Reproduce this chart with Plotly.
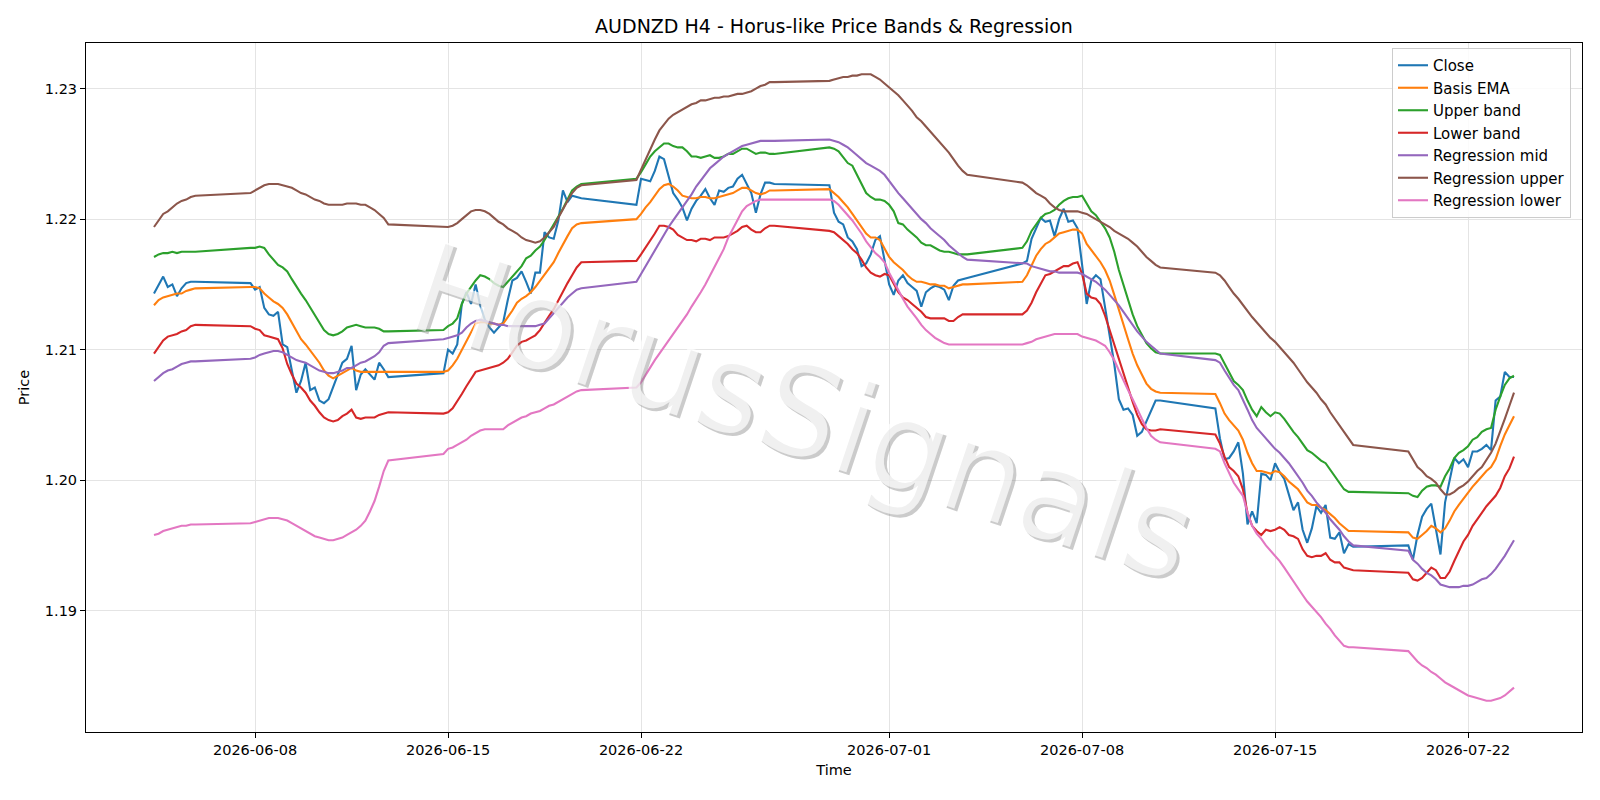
import pandas as pd
import plotly.graph_objects as go

# ---- trading sessions (H4 bars, weekend gaps) ----
sessions = [
    ("2026-06-04 08:00", "2026-06-05 20:00"),
    ("2026-06-07 20:00", "2026-06-12 20:00"),
    ("2026-06-14 20:00", "2026-06-19 20:00"),
    ("2026-06-21 20:00", "2026-06-26 20:00"),
    ("2026-06-28 20:00", "2026-07-03 20:00"),
    ("2026-07-05 20:00", "2026-07-10 20:00"),
    ("2026-07-12 20:00", "2026-07-17 20:00"),
    ("2026-07-19 20:00", "2026-07-23 16:00"),
]

close = [
    1.2143, 1.2149, 1.2156, 1.2148, 1.2150, 1.2141, 1.2147, 1.2151, 1.2152, 1.2152,
    1.2151, 1.2146, 1.2148, 1.2132, 1.2127, 1.2126, 1.2129, 1.2104, 1.2102, 1.2084, 1.2067, 1.2076, 1.2090, 1.2069, 1.2071, 1.2061, 1.2059, 1.2062, 1.2071, 1.2080, 1.2090, 1.2093, 1.2103, 1.2069, 1.2081, 1.2085, 1.2081, 1.2077, 1.2090, 1.2085, 1.2079,
    1.2082, 1.2100, 1.2097, 1.2104, 1.2135, 1.2144, 1.2135, 1.2150, 1.2134, 1.2123, 1.2117, 1.2113, 1.2117, 1.2121, 1.2138, 1.2153, 1.2155, 1.2160, 1.2152, 1.2143, 1.2159, 1.2159, 1.2190, 1.2186, 1.2185, 1.2199, 1.2222, 1.2213, 1.2218, 1.2217, 1.2216,
    1.2211, 1.2231, 1.2230, 1.2229, 1.2237, 1.2248, 1.2246, 1.2233, 1.2220, 1.2215, 1.2209, 1.2199, 1.2208, 1.2214, 1.2218, 1.2223, 1.2216, 1.2211, 1.2222, 1.2221, 1.2224, 1.2225, 1.2231, 1.2234, 1.2227, 1.2220, 1.2205, 1.2219, 1.2228, 1.2228, 1.2227,
    1.2226, 1.2205, 1.2198, 1.2196, 1.2186, 1.2183, 1.2177, 1.2164, 1.2166, 1.2173, 1.2184, 1.2187, 1.2168, 1.2150, 1.2142, 1.2153, 1.2157, 1.2151, 1.2148, 1.2145, 1.2133, 1.2144, 1.2147, 1.2149, 1.2148, 1.2146, 1.2138, 1.2149, 1.2153, 1.2154, 1.2155,
    1.2166, 1.2168, 1.2185, 1.2193, 1.2201, 1.2198, 1.2199, 1.2187, 1.2200, 1.2208, 1.2198, 1.2199, 1.2193, 1.2165, 1.2135, 1.2153, 1.2157, 1.2154, 1.2132, 1.2113, 1.2089, 1.2062, 1.2054, 1.2055, 1.2050, 1.2034, 1.2037, 1.2045, 1.2053, 1.2061, 1.2061,
    1.2055, 1.2032, 1.2016, 1.2017, 1.2022, 1.2029, 1.2005, 1.1966, 1.1976, 1.1967, 1.2005, 1.2004, 1.2000, 1.2013, 1.2006, 1.2001, 1.1988, 1.1977, 1.1983, 1.1962, 1.1952, 1.1963, 1.1980, 1.1975, 1.1981, 1.1956, 1.1955, 1.1960, 1.1944, 1.1951, 1.1949,
    1.1950, 1.1939, 1.1958, 1.1972, 1.1978, 1.1982, 1.1962, 1.1943, 1.1983, 1.2001, 1.2017, 1.2013, 1.2016, 1.2010, 1.2022, 1.2022, 1.2024, 1.2027, 1.2023, 1.2061, 1.2064, 1.2083, 1.2079, 1.2079,
]

basis_ema = [
    1.2134, 1.2138, 1.2140, 1.2141, 1.2142, 1.2143, 1.2143, 1.2145, 1.2146, 1.2147,
    1.2148, 1.2148, 1.2147, 1.2143, 1.2140, 1.2137, 1.2135, 1.2132, 1.2127, 1.2121, 1.2115, 1.2108, 1.2104, 1.2099, 1.2094, 1.2090, 1.2084, 1.2080, 1.2078, 1.2080, 1.2082, 1.2084, 1.2086, 1.2084, 1.2083, 1.2083, 1.2083, 1.2083, 1.2083, 1.2083, 1.2083,
    1.2083, 1.2084, 1.2088, 1.2093, 1.2100, 1.2107, 1.2114, 1.2120, 1.2121, 1.2121, 1.2120, 1.2120, 1.2119, 1.2120, 1.2125, 1.2130, 1.2136, 1.2139, 1.2141, 1.2144, 1.2148, 1.2153, 1.2158, 1.2162, 1.2167, 1.2174, 1.2181, 1.2187, 1.2193, 1.2196, 1.2197,
    1.2200, 1.2204, 1.2209, 1.2213, 1.2218, 1.2223, 1.2226, 1.2227, 1.2225, 1.2222, 1.2218, 1.2217, 1.2216, 1.2216, 1.2217, 1.2217, 1.2216, 1.2216, 1.2217, 1.2218, 1.2219, 1.2220, 1.2222, 1.2224, 1.2224, 1.2222, 1.2220, 1.2219, 1.2220, 1.2222, 1.2222,
    1.2223, 1.2220, 1.2217, 1.2213, 1.2209, 1.2204, 1.2199, 1.2194, 1.2189, 1.2186, 1.2186, 1.2184, 1.2178, 1.2171, 1.2167, 1.2164, 1.2161, 1.2157, 1.2154, 1.2152, 1.2152, 1.2151, 1.2150, 1.2150, 1.2149, 1.2149, 1.2147, 1.2148, 1.2149, 1.2150, 1.2150,
    1.2152, 1.2157, 1.2164, 1.2172, 1.2177, 1.2181, 1.2183, 1.2186, 1.2189, 1.2190, 1.2191, 1.2192, 1.2192, 1.2189, 1.2181, 1.2176, 1.2172, 1.2167, 1.2161, 1.2153, 1.2142, 1.2130, 1.2119, 1.2108, 1.2097, 1.2088, 1.2081, 1.2074, 1.2070, 1.2068, 1.2067,
    1.2066, 1.2059, 1.2051, 1.2046, 1.2042, 1.2038, 1.2031, 1.2021, 1.2013, 1.2007, 1.2007, 1.2006, 1.2005, 1.2007, 1.2006, 1.2003, 1.1999, 1.1996, 1.1993, 1.1988, 1.1983, 1.1981, 1.1981, 1.1979, 1.1977, 1.1974, 1.1971, 1.1967, 1.1964, 1.1961, 1.1961,
    1.1960, 1.1956, 1.1955, 1.1958, 1.1961, 1.1965, 1.1963, 1.1960, 1.1963, 1.1969, 1.1976, 1.1981, 1.1986, 1.1991, 1.1995, 1.1999, 1.2003, 1.2007, 1.2010, 1.2016, 1.2026, 1.2035, 1.2042, 1.2049,
]

upper_band = [
    1.2171, 1.2173, 1.2174, 1.2174, 1.2175, 1.2174, 1.2175, 1.2175, 1.2175, 1.2175,
    1.2178, 1.2178, 1.2179, 1.2178, 1.2173, 1.2169, 1.2165, 1.2163, 1.2160, 1.2154, 1.2148, 1.2143, 1.2138, 1.2132, 1.2126, 1.2120, 1.2115, 1.2112, 1.2111, 1.2112, 1.2114, 1.2117, 1.2118, 1.2119, 1.2118, 1.2117, 1.2117, 1.2117, 1.2116, 1.2114, 1.2114,
    1.2115, 1.2118, 1.2120, 1.2124, 1.2135, 1.2143, 1.2148, 1.2153, 1.2157, 1.2156, 1.2154, 1.2151, 1.2149, 1.2148, 1.2152, 1.2156, 1.2160, 1.2164, 1.2170, 1.2172, 1.2176, 1.2179, 1.2184, 1.2190, 1.2196, 1.2201, 1.2208, 1.2215, 1.2222, 1.2225, 1.2227,
    1.2231, 1.2236, 1.2242, 1.2248, 1.2252, 1.2255, 1.2258, 1.2258, 1.2256, 1.2255, 1.2255, 1.2252, 1.2248, 1.2248, 1.2247, 1.2248, 1.2249, 1.2247, 1.2247, 1.2248, 1.2250, 1.2250, 1.2252, 1.2254, 1.2254, 1.2252, 1.2250, 1.2251, 1.2251, 1.2250, 1.2250,
    1.2255, 1.2254, 1.2252, 1.2247, 1.2243, 1.2241, 1.2234, 1.2227, 1.2220, 1.2217, 1.2215, 1.2215, 1.2214, 1.2211, 1.2206, 1.2197, 1.2196, 1.2192, 1.2189, 1.2186, 1.2182, 1.2180, 1.2180, 1.2178, 1.2176, 1.2175, 1.2175, 1.2174, 1.2173, 1.2173, 1.2173,
    1.2178, 1.2183, 1.2191, 1.2196, 1.2201, 1.2204, 1.2205, 1.2207, 1.2211, 1.2214, 1.2216, 1.2217, 1.2217, 1.2218, 1.2212, 1.2206, 1.2203, 1.2198, 1.2193, 1.2186, 1.2175, 1.2161, 1.2149, 1.2138, 1.2127, 1.2118, 1.2111, 1.2105, 1.2101, 1.2098, 1.2097,
    1.2097, 1.2096, 1.2089, 1.2082, 1.2076, 1.2073, 1.2069, 1.2061, 1.2054, 1.2049, 1.2056, 1.2052, 1.2049, 1.2052, 1.2051, 1.2047, 1.2042, 1.2037, 1.2033, 1.2028, 1.2023, 1.2021, 1.2018, 1.2015, 1.2013, 1.2008, 1.2003, 1.1998, 1.1993, 1.1991, 1.1991,
    1.1990, 1.1988, 1.1987, 1.1992, 1.1995, 1.1996, 1.1996, 1.1995, 1.2003, 1.2009, 1.2017, 1.2021, 1.2023, 1.2026, 1.2031, 1.2033, 1.2037, 1.2039, 1.2040, 1.2054, 1.2064, 1.2073, 1.2078, 1.2080,
]

lower_band = [
    1.2097, 1.2102, 1.2107, 1.2110, 1.2111, 1.2112, 1.2114, 1.2115, 1.2118, 1.2119,
    1.2118, 1.2116, 1.2115, 1.2111, 1.2110, 1.2109, 1.2108, 1.2101, 1.2089, 1.2081, 1.2074, 1.2071, 1.2067, 1.2061, 1.2057, 1.2052, 1.2048, 1.2046, 1.2045, 1.2046, 1.2049, 1.2051, 1.2054, 1.2048, 1.2047, 1.2048, 1.2048, 1.2048, 1.2050, 1.2051, 1.2052,
    1.2051, 1.2052, 1.2055, 1.2060, 1.2066, 1.2072, 1.2078, 1.2083, 1.2084, 1.2085, 1.2086, 1.2087, 1.2088, 1.2090, 1.2093, 1.2098, 1.2103, 1.2106, 1.2107, 1.2109, 1.2111, 1.2115, 1.2120, 1.2126, 1.2131, 1.2138, 1.2144, 1.2151, 1.2157, 1.2163, 1.2167,
    1.2168, 1.2173, 1.2178, 1.2183, 1.2189, 1.2195, 1.2195, 1.2194, 1.2192, 1.2188, 1.2186, 1.2184, 1.2184, 1.2183, 1.2185, 1.2185, 1.2184, 1.2186, 1.2186, 1.2186, 1.2187, 1.2189, 1.2191, 1.2194, 1.2195, 1.2192, 1.2190, 1.2190, 1.2193, 1.2195, 1.2195,
    1.2191, 1.2190, 1.2187, 1.2184, 1.2181, 1.2177, 1.2174, 1.2169, 1.2163, 1.2159, 1.2157, 1.2156, 1.2158, 1.2157, 1.2151, 1.2144, 1.2140, 1.2138, 1.2135, 1.2132, 1.2129, 1.2125, 1.2124, 1.2124, 1.2124, 1.2124, 1.2122, 1.2122, 1.2125, 1.2127, 1.2127,
    1.2127, 1.2130, 1.2136, 1.2144, 1.2151, 1.2157, 1.2158, 1.2160, 1.2162, 1.2164, 1.2164, 1.2166, 1.2167, 1.2158, 1.2143, 1.2140, 1.2139, 1.2135, 1.2126, 1.2115, 1.2104, 1.2092, 1.2081, 1.2071, 1.2060, 1.2050, 1.2043, 1.2039, 1.2038, 1.2038, 1.2039,
    1.2035, 1.2028, 1.2018, 1.2010, 1.2007, 1.2003, 1.1993, 1.1975, 1.1965, 1.1961, 1.1958, 1.1962, 1.1961, 1.1962, 1.1964, 1.1962, 1.1958, 1.1957, 1.1955, 1.1947, 1.1942, 1.1941, 1.1942, 1.1942, 1.1944, 1.1939, 1.1937, 1.1937, 1.1933, 1.1932, 1.1931,
    1.1929, 1.1924, 1.1923, 1.1925, 1.1929, 1.1933, 1.1931, 1.1925, 1.1925, 1.1930, 1.1938, 1.1946, 1.1953, 1.1958, 1.1965, 1.1970, 1.1975, 1.1980, 1.1984, 1.1988, 1.1994, 1.2003, 1.2009, 1.2018,
]

regression_mid = [
    1.2076, 1.2079, 1.2082, 1.2084, 1.2085, 1.2087, 1.2089, 1.2090, 1.2091, 1.2091,
    1.2093, 1.2094, 1.2096, 1.2097, 1.2098, 1.2099, 1.2099, 1.2098, 1.2096, 1.2094, 1.2092, 1.2091, 1.2090, 1.2088, 1.2086, 1.2084, 1.2083, 1.2082, 1.2082, 1.2083, 1.2084, 1.2086, 1.2086, 1.2088, 1.2090, 1.2091, 1.2093, 1.2095, 1.2098, 1.2103, 1.2105,
    1.2108, 1.2109, 1.2110, 1.2111, 1.2113, 1.2117, 1.2120, 1.2122, 1.2123, 1.2122, 1.2121, 1.2120, 1.2119, 1.2119, 1.2118, 1.2118, 1.2118, 1.2118, 1.2118, 1.2118, 1.2118, 1.2119, 1.2120, 1.2124, 1.2128, 1.2132, 1.2136, 1.2140, 1.2143, 1.2146, 1.2147,
    1.2152, 1.2158, 1.2164, 1.2171, 1.2177, 1.2183, 1.2189, 1.2194, 1.2199, 1.2204, 1.2209, 1.2214, 1.2219, 1.2225, 1.2230, 1.2235, 1.2239, 1.2242, 1.2245, 1.2248, 1.2250, 1.2252, 1.2254, 1.2256, 1.2257, 1.2258, 1.2259, 1.2260, 1.2260, 1.2260, 1.2260,
    1.2261, 1.2260, 1.2259, 1.2257, 1.2255, 1.2252, 1.2249, 1.2246, 1.2243, 1.2241, 1.2239, 1.2237, 1.2234, 1.2229, 1.2224, 1.2220, 1.2216, 1.2212, 1.2208, 1.2204, 1.2200, 1.2197, 1.2193, 1.2190, 1.2187, 1.2184, 1.2180, 1.2177, 1.2174, 1.2171, 1.2169,
    1.2166, 1.2166, 1.2164, 1.2163, 1.2162, 1.2161, 1.2160, 1.2160, 1.2159, 1.2159, 1.2159, 1.2159, 1.2159, 1.2158, 1.2156, 1.2154, 1.2152, 1.2149, 1.2146, 1.2142, 1.2138, 1.2134, 1.2129, 1.2124, 1.2119, 1.2114, 1.2110, 1.2106, 1.2103, 1.2100, 1.2097,
    1.2092, 1.2090, 1.2084, 1.2078, 1.2073, 1.2069, 1.2062, 1.2054, 1.2046, 1.2040, 1.2036, 1.2032, 1.2028, 1.2024, 1.2021, 1.2017, 1.2013, 1.2008, 1.2003, 1.1998, 1.1992, 1.1988, 1.1983, 1.1979, 1.1975, 1.1970, 1.1966, 1.1962, 1.1957, 1.1953, 1.1950,
    1.1946, 1.1939, 1.1936, 1.1932, 1.1929, 1.1927, 1.1924, 1.1920, 1.1919, 1.1918, 1.1918, 1.1918, 1.1919, 1.1919, 1.1920, 1.1922, 1.1924, 1.1925, 1.1928, 1.1932, 1.1937, 1.1942, 1.1948, 1.1954,
]

regression_upper = [
    1.2194, 1.2199, 1.2204, 1.2206, 1.2209, 1.2212, 1.2214, 1.2215, 1.2217, 1.2218,
    1.2220, 1.2222, 1.2224, 1.2226, 1.2227, 1.2227, 1.2227, 1.2226, 1.2225, 1.2224, 1.2222, 1.2220, 1.2219, 1.2217, 1.2215, 1.2214, 1.2212, 1.2211, 1.2211, 1.2211, 1.2211, 1.2212, 1.2212, 1.2212, 1.2211, 1.2211, 1.2209, 1.2207, 1.2204, 1.2201, 1.2196,
    1.2194, 1.2194, 1.2195, 1.2197, 1.2200, 1.2203, 1.2206, 1.2207, 1.2207, 1.2206, 1.2204, 1.2201, 1.2198, 1.2196, 1.2193, 1.2191, 1.2189, 1.2186, 1.2184, 1.2183, 1.2182, 1.2183, 1.2186, 1.2190, 1.2194, 1.2201, 1.2208, 1.2214, 1.2220, 1.2224, 1.2226,
    1.2230, 1.2238, 1.2246, 1.2254, 1.2261, 1.2268, 1.2273, 1.2277, 1.2280, 1.2282, 1.2284, 1.2286, 1.2288, 1.2289, 1.2291, 1.2291, 1.2292, 1.2293, 1.2293, 1.2294, 1.2294, 1.2295, 1.2296, 1.2296, 1.2297, 1.2298, 1.2300, 1.2302, 1.2303, 1.2305, 1.2305,
    1.2306, 1.2307, 1.2308, 1.2309, 1.2309, 1.2310, 1.2310, 1.2311, 1.2311, 1.2311, 1.2309, 1.2307, 1.2304, 1.2301, 1.2298, 1.2295, 1.2291, 1.2287, 1.2283, 1.2278, 1.2275, 1.2271, 1.2267, 1.2263, 1.2259, 1.2255, 1.2251, 1.2246, 1.2241, 1.2237, 1.2234,
    1.2228, 1.2226, 1.2223, 1.2220, 1.2218, 1.2216, 1.2212, 1.2209, 1.2207, 1.2206, 1.2206, 1.2206, 1.2206, 1.2205, 1.2204, 1.2202, 1.2200, 1.2198, 1.2196, 1.2194, 1.2191, 1.2189, 1.2187, 1.2185, 1.2182, 1.2179, 1.2175, 1.2171, 1.2168, 1.2165, 1.2163,
    1.2159, 1.2157, 1.2153, 1.2148, 1.2143, 1.2139, 1.2134, 1.2130, 1.2125, 1.2121, 1.2117, 1.2113, 1.2109, 1.2106, 1.2102, 1.2098, 1.2094, 1.2090, 1.2085, 1.2080, 1.2075, 1.2071, 1.2067, 1.2062, 1.2058, 1.2052, 1.2047, 1.2042, 1.2037, 1.2032, 1.2027,
    1.2022, 1.2016, 1.2010, 1.2007, 1.2003, 1.2001, 1.1998, 1.1993, 1.1989, 1.1989, 1.1991, 1.1994, 1.1996, 1.1999, 1.2003, 1.2007, 1.2010, 1.2015, 1.2021, 1.2028, 1.2037, 1.2047, 1.2057, 1.2067,
]

regression_lower = [
    1.1958, 1.1959, 1.1961, 1.1962, 1.1963, 1.1964, 1.1965, 1.1965, 1.1966, 1.1966,
    1.1967, 1.1968, 1.1969, 1.1970, 1.1971, 1.1971, 1.1971, 1.1970, 1.1969, 1.1967, 1.1965, 1.1963, 1.1961, 1.1959, 1.1957, 1.1956, 1.1955, 1.1954, 1.1954, 1.1955, 1.1956, 1.1958, 1.1960, 1.1962, 1.1965, 1.1969, 1.1976, 1.1984, 1.1995, 1.2007, 1.2015,
    1.2020, 1.2024, 1.2025, 1.2027, 1.2029, 1.2031, 1.2034, 1.2036, 1.2038, 1.2039, 1.2039, 1.2039, 1.2039, 1.2039, 1.2042, 1.2044, 1.2046, 1.2048, 1.2049, 1.2051, 1.2052, 1.2053, 1.2055, 1.2057, 1.2058, 1.2060, 1.2062, 1.2064, 1.2066, 1.2068, 1.2069,
    1.2071, 1.2075, 1.2081, 1.2087, 1.2092, 1.2097, 1.2102, 1.2107, 1.2112, 1.2117, 1.2122, 1.2127, 1.2133, 1.2138, 1.2144, 1.2150, 1.2157, 1.2164, 1.2170, 1.2177, 1.2186, 1.2193, 1.2200, 1.2206, 1.2210, 1.2212, 1.2214, 1.2215, 1.2215, 1.2215, 1.2215,
    1.2215, 1.2214, 1.2211, 1.2207, 1.2203, 1.2199, 1.2194, 1.2189, 1.2183, 1.2178, 1.2174, 1.2171, 1.2167, 1.2159, 1.2152, 1.2145, 1.2139, 1.2133, 1.2128, 1.2124, 1.2119, 1.2115, 1.2112, 1.2109, 1.2107, 1.2105, 1.2104, 1.2104, 1.2104, 1.2104, 1.2104,
    1.2104, 1.2105, 1.2106, 1.2108, 1.2109, 1.2110, 1.2111, 1.2112, 1.2112, 1.2112, 1.2112, 1.2112, 1.2112, 1.2110, 1.2109, 1.2108, 1.2107, 1.2105, 1.2103, 1.2098, 1.2092, 1.2084, 1.2076, 1.2069, 1.2062, 1.2054, 1.2047, 1.2040, 1.2034, 1.2031, 1.2029,
    1.2024, 1.2022, 1.2013, 1.2005, 1.1998, 1.1993, 1.1988, 1.1975, 1.1965, 1.1959, 1.1955, 1.1950, 1.1946, 1.1942, 1.1938, 1.1933, 1.1928, 1.1923, 1.1918, 1.1912, 1.1907, 1.1903, 1.1899, 1.1895, 1.1890, 1.1886, 1.1881, 1.1877, 1.1873, 1.1872, 1.1872,
    1.1869, 1.1865, 1.1861, 1.1858, 1.1856, 1.1853, 1.1851, 1.1848, 1.1845, 1.1843, 1.1841, 1.1839, 1.1837, 1.1835, 1.1834, 1.1833, 1.1832, 1.1831, 1.1831, 1.1832, 1.1833, 1.1835, 1.1838, 1.1841,
]

date_ticks = ["2026-06-08", "2026-06-15", "2026-06-22", "2026-07-01",
              "2026-07-08", "2026-07-15", "2026-07-22"]
price_ticks = [1.19, 1.20, 1.21, 1.22, 1.23]

series = [
    ("Close", close, "#1f77b4"),
    ("Basis EMA", basis_ema, "#ff7f0e"),
    ("Upper band", upper_band, "#2ca02c"),
    ("Lower band", lower_band, "#d62728"),
    ("Regression mid", regression_mid, "#9467bd"),
    ("Regression upper", regression_upper, "#8c564b"),
    ("Regression lower", regression_lower, "#e377c2"),
]

times = pd.DatetimeIndex(
    [t for s, e in sessions for t in pd.date_range(s, e, freq="4h")]
)
for name, vals, _ in series:
    assert len(vals) == len(times), (name, len(vals), len(times))

fig = go.Figure()
for name, vals, color in series:
    fig.add_trace(go.Scatter(
        x=times, y=vals, mode="lines", name=name,
        line=dict(color=color, width=2.1),
    ))

# matplotlib-like 5% data margins
span = times[-1] - times[0]
x_range = [times[0] - span * 0.05, times[-1] + span * 0.05]
all_vals = [v for _, vals, _ in series for v in vals]
vmin, vmax = min(all_vals), max(all_vals)
pad = (vmax - vmin) * 0.05
y_range = [vmin - pad, vmax + pad]

FONT = "DejaVu Sans"
L, R, T, B = 86, 18, 43, 68
W, H = 1600, 800
pw, ph = W - L - R, H - T - B

axis_common = dict(
    showgrid=True, gridcolor="#e4e4e4", gridwidth=1,
    showline=True, linecolor="black", linewidth=1, mirror=True,
    ticks="outside", ticklen=5, tickwidth=1, tickcolor="black",
    zeroline=False, automargin=False,
    tickfont=dict(family=FONT, size=14.5, color="black"),
)

fig.update_layout(
    width=W, height=H,
    margin=dict(l=L, r=R, t=T, b=B),
    paper_bgcolor="white", plot_bgcolor="white",
    font=dict(family=FONT, size=14.5, color="black"),
    title=dict(
        text="AUDNZD H4 - Horus-like Price Bands & Regression",
        x=(L + pw / 2) / W, xanchor="center",
        y=1 - 26 / H, yanchor="middle",
        font=dict(family=FONT, size=19, color="black"),
    ),
    xaxis=dict(
        type="date", range=x_range,
        tickvals=date_ticks, tickformat="%Y-%m-%d",
        title=dict(text="Time", standoff=7, font=dict(family=FONT, size=14.5)),
        **axis_common,
    ),
    yaxis=dict(
        range=y_range, tickvals=price_ticks, tickformat=".2f",
        title=dict(text="Price", standoff=11, font=dict(family=FONT, size=14.5)),
        **axis_common,
    ),
    legend=dict(
        x=(1571 - L) / pw, y=(H - B - 48) / ph,
        xanchor="right", yanchor="top",
        bgcolor="rgba(255,255,255,0.85)", bordercolor="#cccccc", borderwidth=1,
        font=dict(family=FONT, size=15, color="black"),
        itemwidth=30,
    ),
    showlegend=True,
)

# watermark
wm_x = (802 - L) / pw
wm_y = (H - B - 411) / ph
fig.add_annotation(
    text="HorusSignals", xref="paper", yref="paper", x=wm_x, y=wm_y,
    xanchor="center", yanchor="middle", showarrow=False, textangle=18.5,
    xshift=3, yshift=-3,
    font=dict(family=FONT, size=125, color="rgba(140,140,140,0.45)"),
)
fig.add_annotation(
    text="HorusSignals", xref="paper", yref="paper", x=wm_x, y=wm_y,
    xanchor="center", yanchor="middle", showarrow=False, textangle=18.5,
    font=dict(family=FONT, size=125, color="rgba(255,255,255,0.7)"),
)

fig.write_html("out.html")
